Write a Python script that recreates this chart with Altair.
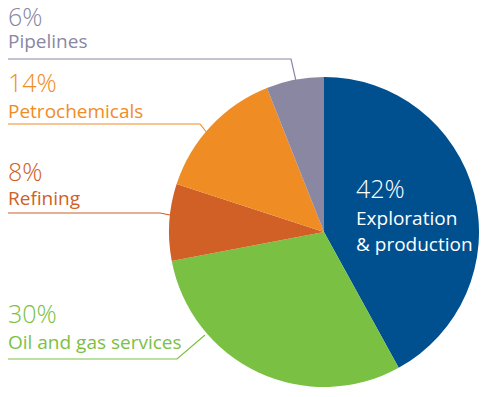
import altair as alt
import pandas as pd

# ---- data ----
categories = ["Exploration & production", "Oil and gas services", "Refining", "Petrochemicals", "Pipelines"]
shares = [42, 30, 8, 14, 6]
colors = ["#00508F", "#7AC143", "#D06025", "#F08C24", "#8A87A3"]
pct_labels = ["42%", "30%", "8%", "14%", "6%"]
name_lines = [["Exploration", "& production"], ["Oil and gas services"], ["Refining"], ["Petrochemicals"], ["Pipelines"]]

# ---- layout (plot-area pixels; page = plot + 8) ----
W, H = 471, 381
CX, CY, R = 316, 224, 155
FONT = "Open Sans"
# label anchor: (text x, pct baseline, first name baseline, text colour)
label_pos = [(348, 190, 217, "white"), (0, 315, 341, None), (0, 173, 197, None), (0, 84, 110, None), (0, 18, 40, None)]
leaders = [None,
           [(0, 351), (169, 351), (197, 327)],
           [(0, 205), (152, 205), (162, 207)],
           [(0, 116), (192, 116), (200, 126)],
           [(0, 51), (283, 51), (288, 73)]]

pie_df = pd.DataFrame({"category": categories, "share": shares, "color": colors, "idx": range(len(categories))})

pct_rows, name_rows, line_rows = [], [], []
for i, cat in enumerate(categories):
    x, yp, yn, tc = label_pos[i]
    tcol = tc or colors[i]
    pct_rows.append({"x": x, "y": yp, "text": pct_labels[i], "c": tcol})
    for j, ln in enumerate(name_lines[i]):
        name_rows.append({"x": x, "y": yn + j * 26, "text": ln, "c": tcol})
    if leaders[i]:
        for k, (lx, ly) in enumerate(leaders[i]):
            line_rows.append({"cat": cat, "k": k, "x": lx, "y": ly, "c": colors[i]})

xs = alt.Scale(domain=[0, W], nice=False, zero=False)
ys = alt.Scale(domain=[0, H], nice=False, zero=False, reverse=True)

pie = alt.Chart(pie_df).mark_arc(outerRadius=R).encode(
    theta=alt.Theta("share:Q", stack=True),
    order=alt.Order("idx:Q"),
    color=alt.Color("color:N", scale=None),
    x=alt.value(CX), y=alt.value(CY),
)

lines = alt.Chart(pd.DataFrame(line_rows)).mark_line(strokeWidth=1.2).encode(
    x=alt.X("x:Q", scale=xs, axis=None),
    y=alt.Y("y:Q", scale=ys, axis=None),
    detail="cat:N",
    order="k:Q",
    color=alt.Color("c:N", scale=None),
)

pct = alt.Chart(pd.DataFrame(pct_rows)).mark_text(
    align="left", baseline="alphabetic", font=FONT, fontSize=25, fontWeight=300
).encode(
    x=alt.X("x:Q", scale=xs, axis=None),
    y=alt.Y("y:Q", scale=ys, axis=None),
    text="text:N",
    color=alt.Color("c:N", scale=None),
)

names = alt.Chart(pd.DataFrame(name_rows)).mark_text(
    align="left", baseline="alphabetic", font=FONT, fontSize=19
).encode(
    x=alt.X("x:Q", scale=xs, axis=None),
    y=alt.Y("y:Q", scale=ys, axis=None),
    text="text:N",
    color=alt.Color("c:N", scale=None),
)

chart = alt.layer(pie, lines, pct, names).properties(
    width=W, height=H, padding=0, autosize="none", background="white"
).configure_view(stroke=None)

chart.save("out.html", embed_options={"renderer": "svg", "actions": False})
